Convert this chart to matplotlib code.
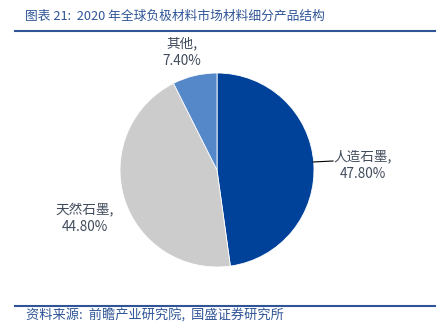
import matplotlib.pyplot as plt

plt.rcParams['font.family'] = ['Noto Sans CJK SC', 'DejaVu Sans']

labels = ["人造石墨", "天然石墨", "其他"]
values = [47.8, 44.8, 7.4]
colors = ["#00419A", "#CCCCCC", "#5588C9"]

fig = plt.figure(figsize=(4.41, 3.32), dpi=100)

# title and source
fig.text(25/441, 1-16/332, "图表 21:  2020 年全球负极材料市场材料细分产品结构",
         color="#2F5597", fontsize=9.2, style="italic", va="center", ha="left")
fig.add_artist(plt.Line2D([15/441, 435/441], [1-31/332, 1-31/332], color="#2F5597", lw=1.5))
fig.add_artist(plt.Line2D([15/441, 435/441], [1-306/332, 1-306/332], color="#2F5597", lw=1.5))
fig.text(26/441, 1-316/332, "资料来源:  前瞻产业研究院,  国盛证券研究所",
         color="#2F5597", fontsize=9.5, style="italic", va="center", ha="left")

# pie
ax = fig.add_axes([(217-97)/441, 1-(170+97)/332, 194/441, 194/332])
ax.pie(values, colors=colors, startangle=90, counterclock=False,
       wedgeprops=dict(edgecolor="white", linewidth=0.6))
ax.set_xlim(-1, 1)
ax.set_ylim(-1, 1)
ax.set_aspect("equal")
ax.axis("off")

txt = "#404B5C"
# labels
fig.text(363/441, 1-165/332, f"{labels[0]},\n{values[0]:.2f}%", color=txt,
         fontsize=9.8, ha="center", va="center", linespacing=1.3)
fig.add_artist(plt.Line2D([313/441, 333/441], [1-162/332, 1-161/332], color="black", lw=0.8))
fig.text(85/441, 1-218/332, f"{labels[1]},\n{values[1]:.2f}%", color=txt,
         fontsize=9.8, ha="center", va="center", linespacing=1.3)
fig.text(182/441, 1-52/332, f"{labels[2]},\n{values[2]:.2f}%", color=txt,
         fontsize=9.8, ha="center", va="center", linespacing=1.3)

fig.savefig("out.png", dpi=100)
